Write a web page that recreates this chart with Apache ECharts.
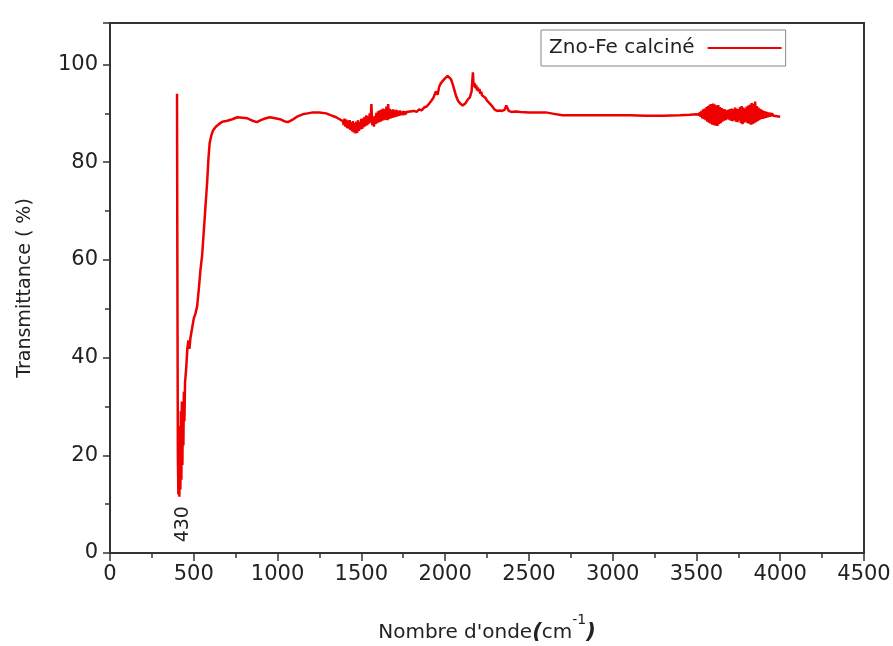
<!DOCTYPE html>
<html>
<head>
<meta charset="utf-8">
<script src="https://cdn.jsdelivr.net/npm/echarts@6/dist/echarts.min.js"></script>
<style>html,body{margin:0;padding:0;background:#fff}#c{width:893px;height:646px}</style>
</head>
<body>
<div id="c"></div>
<script>
var seriesName = 'Zno-Fe calciné';
var peakLabel = '430';
var xTicks = [0, 500, 1000, 1500, 2000, 2500, 3000, 3500, 4000, 4500];
var yTicks = [0, 20, 40, 60, 80, 100];

var wavenumber = [
400,402,405,408,411,414,417,420,423,426,429,432,435,438,441,444,448,455,462,468,474,480,490,500,510,520,530,540,550,560,570,580,588,595,605,615,630,650,670,700,730,760,790,820,850,877,900,930,955,985,1015,1040,1062,1090,1120,1150,1180,1210,1250,1290,1320,1350,1370,
1390,1395,1400,1405,1410,1415,1420,1425,1430,1435,1440,1445,1450,1455,1460,1465,1470,1475,1480,1485,1490,1495,1500,1505,1510,1515,1520,1525,1530,1535,1540,1545,1550,1555,1560,1565,1570,1575,1580,1585,1590,1595,1600,1605,1610,1615,1620,1625,1630,1635,1640,1645,1650,1655,1660,1665,1670,1675,1680,1685,1690,1695,1700,1705,1710,1715,1720,1725,1730,1735,1740,1745,1750,1755,1760,1765,1770,1780,1790,1800,1815,1830,1845,1860,1875,1890,1905,1918,1930,1945,1955,1965,1975,1985,1995,2005,2015,2025,2035,2045,2055,2065,2077,2090,2105,2120,2135,2148,2158,2166,2170,2175,2180,2185,2190,2195,2200,2205,2210,2215,2220,2225,2230,2240,2250,2260,2270,2282,2295,2310,2325,2340,2355,2365,2372,2380,2395,2420,2450,2500,2550,2600,2650,2700,2800,2900,3000,3100,3200,3300,3400,3460,3500,
3515,3520,3525,3530,3535,3540,3545,3550,3555,3560,3565,3570,3575,3580,3585,3590,3595,3600,3605,3610,3615,3620,3625,3630,3635,3640,3645,3650,3655,3660,3665,3670,3675,3680,3685,3690,3695,3700,3705,3710,3715,3720,3725,3730,3735,3740,3745,3750,3755,3760,3765,3770,3775,3780,3785,3790,3795,3800,3805,3810,3815,3820,3825,3830,3835,3840,3845,3850,3855,3860,3865,3870,3875,3880,3885,3890,3895,3900,3905,3910,3915,3920,3925,3930,3935,3940,3945,3950,3960,3970,3980,3990,4000
];
var transmittance = [
94,60,20,12,22,11.5,26,13,29,15,31,18,30,22,33,27,35,38,42,43.5,41.8,44,46,48,49,50.5,54,58,61,66,71,76,81,84,85.5,86.5,87.2,87.8,88.3,88.5,88.8,89.2,89.1,89,88.5,88.2,88.6,89,89.2,89,88.8,88.4,88.2,88.7,89.4,89.8,90,90.2,90.2,90,89.6,89.2,88.8,
88.4,87.6,88.9,87.3,88.7,87.0,88.5,86.9,88.6,86.6,88.2,86.3,88.4,86.1,88.0,85.9,88.3,86.0,88.6,86.4,88.2,86.7,88.9,86.8,89.0,87.2,89.3,87.4,89.6,87.6,89.4,87.9,90.0,88.1,91.9,87.6,89.2,87.3,89.5,87.8,90.1,88.0,90.4,88.2,90.6,88.3,90.8,88.5,91.0,88.6,90.9,88.7,91.4,88.6,91.9,88.8,90.9,89.0,90.7,89.1,90.8,89.2,90.6,89.3,90.7,89.4,90.5,89.5,90.6,89.6,90.4,89.6,90.5,89.7,90.4,89.8,90.3,89.9,90.4,90.0,90.5,90.3,90.8,90.6,91.2,91.4,92,92.6,93.2,94.5,93.8,95.5,96.2,95.8,97,96.6,97.7,97.4,97,96,94.8,93.6,92.6,92,91.6,92,92.8,93.3,94.5,98.4,95.5,96.2,95.2,95.8,94.7,95.3,94.5,95.0,94.0,94.5,93.7,94.0,93.3,93.2,92.6,92.4,91.9,91.4,90.8,90.5,90.6,90.5,90.7,91.6,91.9,90.5,90.3,90.4,90.3,90.2,90.2,90.2,89.9,89.6,89.6,89.6,89.6,89.6,89.5,89.5,89.6,89.7,89.8,
89.7,90.2,89.3,90.5,89.0,90.8,88.8,91.0,88.6,91.3,88.3,91.5,88.1,91.8,87.9,91.9,87.7,92.0,87.6,91.8,87.5,91.6,87.4,91.7,87.8,91.3,88.0,91.1,88.3,90.9,88.5,90.8,88.6,90.6,88.8,90.7,88.7,90.9,88.5,91.0,88.4,90.8,88.6,91.2,88.3,91.0,88.2,90.9,88.5,91.3,88.0,91.5,87.8,91.2,88.1,91.0,88.3,91.4,88.0,91.6,87.9,91.8,87.7,92.1,87.8,91.9,88.0,92.4,88.2,91.5,88.4,91.2,88.6,90.9,88.8,90.7,88.9,90.5,89.0,90.4,89.1,90.3,89.2,90.2,89.3,90.1,89.4,90.0,89.5,89.8,89.4,89.5,89.3
];

var points = wavenumber.map(function (w, i) { return [w, transmittance[i]]; });

var FONT = 'DejaVu Sans';
var chart = echarts.init(document.getElementById('c'), null, {renderer: 'canvas'});
chart.setOption({
  animation: false,
  backgroundColor: '#fff',
  grid: {left: 110, right: 29, top: 23, bottom: 93, show: true, borderColor: '#333', borderWidth: 2, backgroundColor: 'transparent', containLabel: false, outerBoundsMode: 'none'},
  legend: {
    show: true,
    left: 541, top: 30,
    align: 'right',
    orient: 'vertical',
    itemWidth: 74, itemHeight: 14,
    padding: [8, 4, 8, 8],
    itemGap: 10,
    borderColor: '#888', borderWidth: 1,
    textStyle: {fontFamily: FONT, fontSize: 20, color: '#222', padding: [0, 8, 0, 0]},
    data: [{name: seriesName, icon: 'path://M0,6 L74,6 L74,8 L0,8 Z'}]
  },
  xAxis: {
    type: 'value', min: xTicks[0], max: xTicks[xTicks.length - 1], interval: xTicks[1] - xTicks[0],
    name: '{n|Nombre d\'onde}{p|(}{n|cm}{s|-1}{p|)}',
    nameLocation: 'middle', nameGap: 60,
    nameTextStyle: {
      rich: {
        n: {fontFamily: FONT, fontSize: 20, color: '#222', verticalAlign: 'bottom', lineHeight: 30},
        p: {fontFamily: FONT, fontSize: 21, color: '#222', fontWeight: 'bold', fontStyle: 'italic', verticalAlign: 'bottom', lineHeight: 30},
        s: {fontFamily: FONT, fontSize: 14, color: '#222', verticalAlign: 'top', lineHeight: 30}
      }
    },
    axisLine: {show: true, lineStyle: {color: '#333', width: 2}},
    axisTick: {show: true, inside: false, length: 8, lineStyle: {color: '#333', width: 1.5}},
    minorTick: {show: true, splitNumber: 2, length: 5, lineStyle: {color: '#333', width: 1.5}},
    splitLine: {show: false},
    minorSplitLine: {show: false},
    axisLabel: {fontFamily: FONT, fontSize: 21, color: '#222', margin: 11, formatter: function (v) { return String(v); }}
  },
  yAxis: {
    type: 'value', min: yTicks[0], max: 108.5, interval: yTicks[1] - yTicks[0],
    name: 'Transmittance ( %)',
    nameLocation: 'middle', nameGap: 75, nameRotate: 90,
    nameTextStyle: {fontFamily: FONT, fontSize: 19, color: '#222'},
    axisLine: {show: true, lineStyle: {color: '#333', width: 2}},
    axisTick: {show: true, inside: false, length: 7, lineStyle: {color: '#333', width: 1.5}},
    minorTick: {show: true, splitNumber: 2, length: 5, lineStyle: {color: '#333', width: 1.5}},
    splitLine: {show: false},
    axisLabel: {fontFamily: FONT, fontSize: 21, color: '#222', margin: 12, showMaxLabel: false, formatter: function (v) { return String(v); }}
  },
  series: [{
    name: seriesName,
    type: 'line',
    data: points,
    showSymbol: false,
    symbol: 'none',
    lineStyle: {color: '#ee0000', width: 2.5},
    itemStyle: {color: '#ee0000'},
    markPoint: {
      symbol: 'rect', symbolSize: 1,
      itemStyle: {color: 'transparent'},
      label: {show: true, position: 'inside', rotate: 90, formatter: peakLabel, fontFamily: FONT, fontSize: 19, color: '#222'},
      data: [{coord: [436, 5.9], value: 430}]
    }
  }]
});
</script>
</body>
</html>
